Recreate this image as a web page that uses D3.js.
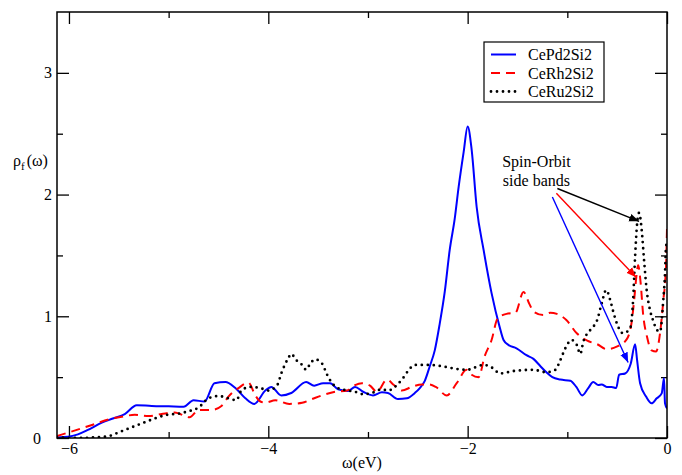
<!DOCTYPE html>
<html>
<head>
<meta charset="utf-8">
<script src="https://cdn.jsdelivr.net/npm/d3@7"></script>
<style>
  body { margin: 0; background: #fff; }
  svg text { font-family: "Liberation Serif", "Times New Roman", serif; fill: #000; }
</style>
</head>
<body>
<div id="chart"></div>
<script>
// f-electron spectral density, [omega (eV), rho_f]
const cePd2Si2 = [
  [-6.12, 0.005], [-6.01, 0.01], [-5.91, 0.03], [-5.81, 0.066], [-5.67, 0.126], [-5.56, 0.16],
  [-5.44, 0.197], [-5.32, 0.27], [-5.17, 0.263], [-5.0, 0.26], [-4.85, 0.257], [-4.75, 0.31],
  [-4.64, 0.30], [-4.54, 0.45], [-4.43, 0.46], [-4.33, 0.41], [-4.23, 0.326], [-4.14, 0.28],
  [-4.03, 0.39], [-3.97, 0.42], [-3.87, 0.35], [-3.77, 0.37], [-3.62, 0.46], [-3.54, 0.43],
  [-3.45, 0.45], [-3.38, 0.45], [-3.30, 0.40], [-3.20, 0.386], [-3.13, 0.42], [-3.05, 0.38],
  [-2.95, 0.35], [-2.86, 0.375], [-2.80, 0.37], [-2.70, 0.32], [-2.61, 0.326], [-2.53, 0.37],
  [-2.48, 0.41], [-2.43, 0.47], [-2.38, 0.59], [-2.33, 0.72], [-2.28, 0.94], [-2.23, 1.2],
  [-2.18, 1.545], [-2.13, 1.8], [-2.09, 2.065], [-2.04, 2.35], [-2.0, 2.56], [-1.96, 2.37],
  [-1.91, 1.9], [-1.84, 1.545], [-1.76, 1.19], [-1.68, 0.915], [-1.64, 0.805], [-1.59, 0.764],
  [-1.51, 0.737], [-1.41, 0.68], [-1.34, 0.65], [-1.27, 0.59], [-1.21, 0.54], [-1.15, 0.50],
  [-1.07, 0.48], [-0.97, 0.47], [-0.91, 0.42], [-0.85, 0.35], [-0.79, 0.41], [-0.74, 0.46],
  [-0.69, 0.435], [-0.655, 0.44], [-0.605, 0.42], [-0.555, 0.42], [-0.51, 0.41], [-0.48, 0.52],
  [-0.42, 0.53], [-0.364, 0.61], [-0.32, 0.77], [-0.30, 0.64], [-0.27, 0.45], [-0.21, 0.34],
  [-0.154, 0.285], [-0.103, 0.326], [-0.053, 0.367], [-0.03, 0.49], [-0.02, 0.285], [0, 0.244]
];

const ceRh2Si2 = [
  [-6.12, 0.016], [-6.01, 0.044], [-5.87, 0.08], [-5.74, 0.115], [-5.60, 0.153], [-5.47, 0.175],
  [-5.34, 0.19], [-5.20, 0.18], [-5.07, 0.197], [-4.94, 0.21], [-4.79, 0.17], [-4.70, 0.23],
  [-4.57, 0.23], [-4.47, 0.263], [-4.40, 0.34], [-4.30, 0.41], [-4.20, 0.455], [-4.13, 0.35],
  [-4.08, 0.30], [-4.03, 0.29], [-3.93, 0.31], [-3.79, 0.28], [-3.66, 0.29], [-3.56, 0.32],
  [-3.46, 0.35], [-3.33, 0.38], [-3.21, 0.39], [-3.13, 0.435], [-3.06, 0.45], [-2.98, 0.43],
  [-2.91, 0.38], [-2.81, 0.48], [-2.74, 0.435], [-2.66, 0.39], [-2.56, 0.42], [-2.46, 0.44],
  [-2.39, 0.44], [-2.32, 0.42], [-2.21, 0.35], [-2.11, 0.45], [-2.01, 0.56], [-1.96, 0.52],
  [-1.89, 0.50], [-1.83, 0.67], [-1.76, 0.805], [-1.70, 0.98], [-1.61, 1.02], [-1.52, 1.03],
  [-1.44, 1.20], [-1.38, 1.10], [-1.34, 1.04], [-1.24, 1.01], [-1.17, 1.03], [-1.105, 1.02],
  [-1.01, 0.97], [-0.905, 0.86], [-0.80, 0.80], [-0.70, 0.77], [-0.605, 0.73], [-0.505, 0.75],
  [-0.405, 0.81], [-0.355, 0.95], [-0.33, 1.13], [-0.304, 1.35], [-0.29, 1.42], [-0.264, 1.27],
  [-0.24, 1.02], [-0.20, 0.83], [-0.154, 0.72], [-0.11, 0.71], [-0.07, 0.86], [-0.037, 1.13],
  [-0.01, 1.41], [0, 1.72]
];

const ceRu2Si2 = [
  [-6.12, 0.005], [-5.93, 0], [-5.74, 0.005], [-5.60, 0.016], [-5.49, 0.05], [-5.37, 0.088],
  [-5.25, 0.126], [-5.14, 0.16], [-5.02, 0.19], [-4.90, 0.20], [-4.80, 0.22], [-4.70, 0.25],
  [-4.60, 0.326], [-4.50, 0.345], [-4.40, 0.326], [-4.32, 0.31], [-4.27, 0.39], [-4.18, 0.42],
  [-4.08, 0.41], [-4.00, 0.39], [-3.91, 0.435], [-3.87, 0.53], [-3.80, 0.655], [-3.77, 0.69],
  [-3.72, 0.64], [-3.66, 0.60], [-3.62, 0.56], [-3.58, 0.61], [-3.53, 0.646], [-3.46, 0.61],
  [-3.41, 0.52], [-3.36, 0.45], [-3.30, 0.41], [-3.20, 0.39], [-3.13, 0.38], [-3.05, 0.36],
  [-2.96, 0.37], [-2.86, 0.40], [-2.80, 0.39], [-2.71, 0.435], [-2.65, 0.49], [-2.58, 0.57],
  [-2.53, 0.60], [-2.39, 0.60], [-2.26, 0.59], [-2.13, 0.57], [-2.01, 0.56], [-1.84, 0.60],
  [-1.74, 0.57], [-1.68, 0.53], [-1.54, 0.55], [-1.34, 0.56], [-1.21, 0.54], [-1.12, 0.56],
  [-1.07, 0.64], [-1.02, 0.737], [-0.957, 0.805], [-0.905, 0.764], [-0.87, 0.69], [-0.84, 0.79],
  [-0.77, 0.887], [-0.70, 0.97], [-0.655, 1.107], [-0.61, 1.216], [-0.57, 1.134], [-0.54, 1.04],
  [-0.49, 0.914], [-0.44, 0.86], [-0.37, 0.90], [-0.34, 1.134], [-0.32, 1.49], [-0.30, 1.76],
  [-0.28, 1.85], [-0.254, 1.71], [-0.23, 1.46], [-0.204, 1.216], [-0.17, 1.05], [-0.137, 0.96],
  [-0.103, 0.89], [-0.07, 0.873], [-0.037, 1.134], [-0.02, 1.35], [-0.01, 1.57], [0, 1.6]
];

const seriesNames = ["CePd2Si2", "CeRh2Si2", "CeRu2Si2"];
const seriesColors = ["#0000ff", "#ff0000", "#000000"];
const seriesDashes = [null, "9,6", "0,6"];

const xMajorTicks = [-6, -4, -2, 0];
const xMinorTicks = [-5, -3, -1];
const yMajorTicks = [0, 1, 2, 3];
const yMinorTicks = [0.5, 1.5, 2.5];

// annotation text lines and arrows (start -> end, in data units)
const annotationLines = ["Spin-Orbit", "side bands"];
const annotationAnchor = [-1.31, 2.23];
const arrows = [
  { color: "#000000", from: [-1.10, 2.05], to: [-0.28, 1.78] },
  { color: "#ff0000", from: [-1.11, 2.01], to: [-0.31, 1.32] },
  { color: "#0000ff", from: [-1.15, 1.98], to: [-0.39, 0.62] }
];

const FONT = "'Liberation Serif', 'Times New Roman', serif";
const width = 682, height = 475;
const margin = { top: 12, right: 15, bottom: 37, left: 57 };
const innerWidth = width - margin.left - margin.right;
const innerHeight = height - margin.top - margin.bottom;

const svg = d3.select("#chart").append("svg")
  .attr("width", width)
  .attr("height", height)
  .attr("font-family", FONT);

const xScale = d3.scaleLinear().domain([-6.12, 0]).range([0, innerWidth]);
const yScale = d3.scaleLinear().domain([0, 3.5]).range([innerHeight, 0]);

const g = svg.append("g").attr("transform", `translate(${margin.left},${margin.top})`);

// arrow heads
const defs = svg.append("defs");
arrows.forEach((a, i) => {
  defs.append("marker")
    .attr("id", "head" + i)
    .attr("viewBox", "0 0 10 10")
    .attr("refX", 10).attr("refY", 5)
    .attr("markerWidth", 10).attr("markerHeight", 10)
    .attr("markerUnits", "userSpaceOnUse")
    .attr("orient", "auto")
    .append("path")
    .attr("d", "M0,1 L10,5 L0,9 Z")
    .attr("fill", a.color);
});

// clip the curves to the frame
defs.append("clipPath").attr("id", "plot-clip")
  .append("rect").attr("width", innerWidth).attr("height", innerHeight);

// ticks: inward on all four sides
function styleTicks(sel) {
  sel.attr("font-family", FONT);
  sel.select(".domain").remove();
  sel.selectAll(".tick line").attr("stroke", "#000").attr("stroke-width", 1.3);
  sel.selectAll(".tick text").style("font-size", "16px").style("font-family", FONT);
  // tick-only axes: drop their empty labels
  sel.selectAll(".tick text").filter(function () { return this.textContent === ""; }).remove();
}

g.append("g")
  .attr("transform", `translate(0,${innerHeight})`)
  .call(d3.axisBottom(xScale).tickValues(xMajorTicks).tickSize(-12).tickPadding(5).tickFormat(d3.format("d")))
  .call(styleTicks);
g.append("g")
  .attr("transform", `translate(0,${innerHeight})`)
  .call(d3.axisBottom(xScale).tickValues(xMinorTicks).tickSize(-6).tickFormat(""))
  .call(styleTicks);
g.append("g")
  .call(d3.axisTop(xScale).tickValues(xMajorTicks).tickSize(-12).tickFormat(""))
  .call(styleTicks);
g.append("g")
  .call(d3.axisTop(xScale).tickValues(xMinorTicks).tickSize(-6).tickFormat(""))
  .call(styleTicks);

const yAxisGroup = g.append("g")
  .call(d3.axisLeft(yScale).tickValues(yMajorTicks).tickSize(-12).tickPadding(5).tickFormat(d3.format("d")))
  .call(styleTicks);
// the zero label sits further out, clear of the -6 label
yAxisGroup.selectAll(".tick text").filter(d => d === 0).attr("x", -16);

g.append("g")
  .call(d3.axisLeft(yScale).tickValues(yMinorTicks).tickSize(-6).tickFormat(""))
  .call(styleTicks);
g.append("g")
  .attr("transform", `translate(${innerWidth},0)`)
  .call(d3.axisRight(yScale).tickValues(yMajorTicks).tickSize(-12).tickFormat(""))
  .call(styleTicks);
g.append("g")
  .attr("transform", `translate(${innerWidth},0)`)
  .call(d3.axisRight(yScale).tickValues(yMinorTicks).tickSize(-6).tickFormat(""))
  .call(styleTicks);

// curves
const line = d3.line()
  .x(d => xScale(d[0]))
  .y(d => yScale(d[1]))
  .curve(d3.curveMonotoneX);

const plot = g.append("g").attr("clip-path", "url(#plot-clip)");
[cePd2Si2, ceRh2Si2, ceRu2Si2].forEach((data, i) => {
  plot.append("path")
    .datum(data)
    .attr("fill", "none")
    .attr("stroke", seriesColors[i])
    .attr("stroke-width", i === 2 ? 2.8 : 2)
    .attr("stroke-dasharray", seriesDashes[i])
    .attr("stroke-linecap", i === 2 ? "round" : "butt")
    .attr("stroke-linejoin", "round")
    .attr("d", line);
});

// frame
g.append("rect")
  .attr("width", innerWidth)
  .attr("height", innerHeight)
  .attr("fill", "none")
  .attr("stroke", "#000")
  .attr("stroke-width", 1.5);

// annotation
annotationLines.forEach((t, i) => {
  g.append("text")
    .attr("x", xScale(annotationAnchor[0]))
    .attr("y", yScale(annotationAnchor[1]) + i * 19)
    .attr("text-anchor", "middle")
    .style("font-family", FONT)
    .style("font-size", "16px")
    .text(t);
});
arrows.forEach((a, i) => {
  g.append("line")
    .attr("x1", xScale(a.from[0])).attr("y1", yScale(a.from[1]))
    .attr("x2", xScale(a.to[0])).attr("y2", yScale(a.to[1]))
    .attr("stroke", a.color)
    .attr("stroke-width", 1.4)
    .attr("marker-end", `url(#head${i})`);
});

// legend
const legend = g.append("g").attr("transform", `translate(${innerWidth - 183},30)`);
legend.append("rect")
  .attr("width", 120).attr("height", 60)
  .attr("fill", "#fff").attr("stroke", "#000").attr("stroke-width", 1.2);
seriesNames.forEach((name, i) => {
  const y = 12.5 + i * 18.5;
  legend.append("line")
    .attr("x1", 7).attr("x2", 32).attr("y1", y).attr("y2", y)
    .attr("stroke", seriesColors[i])
    .attr("stroke-width", i === 2 ? 2.8 : 2)
    .attr("stroke-dasharray", seriesDashes[i])
    .attr("stroke-linecap", i === 2 ? "round" : "butt");
  legend.append("text")
    .attr("x", 44).attr("y", y + 5.5)
    .style("font-family", FONT)
    .style("font-size", "16px")
    .text(name);
});

// axis titles
svg.append("text")
  .attr("x", margin.left + innerWidth / 2)
  .attr("y", 468)
  .attr("text-anchor", "middle")
  .style("font-family", FONT)
  .style("font-size", "16px")
  .text("ω(eV)");

const yTitle = svg.append("text")
  .attr("x", 13)
  .attr("y", 166)
  .style("font-family", FONT)
  .style("font-size", "16px");
yTitle.append("tspan").text("ρ");
yTitle.append("tspan").attr("dy", 4).style("font-size", "11px").text("f");
yTitle.append("tspan").attr("dy", -4).attr("dx", 2).text("(ω)");
</script>
</body>
</html>
